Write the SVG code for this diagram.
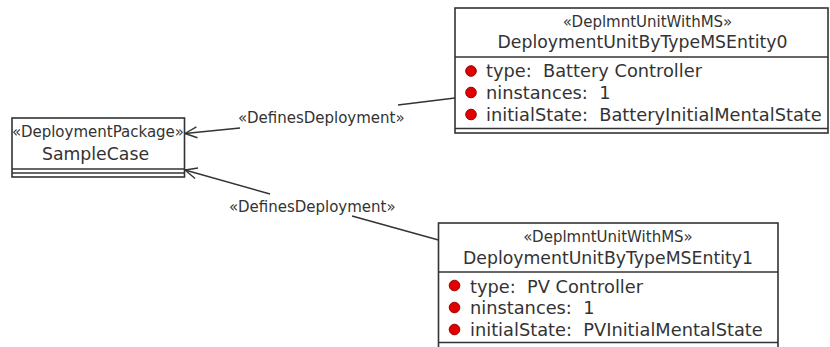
<svg xmlns="http://www.w3.org/2000/svg" width="830" height="347" viewBox="0 0 830 347" xml:space="preserve">
<defs>
<style>
text { font-family: "DejaVu Sans", "Liberation Sans", sans-serif; fill: #333333; white-space: pre; }
.box { fill: #ffffff; stroke: #333333; stroke-width: 1.6; }
.sep { stroke: #333333; stroke-width: 1.4; fill: none; }
.st { font-size: 15px; text-anchor: middle; }
.nm { font-size: 17.3px; text-anchor: middle; }
.at { font-size: 17.8px; }
.bul { fill: #e00000; stroke: #9a0000; stroke-width: 1; }
.edge { stroke: #333333; stroke-width: 1.4; fill: none; }
.lbl { font-size: 15px; }
</style>
<marker id="open" viewBox="-1 -7 14 14" refX="12" refY="0" markerWidth="14" markerHeight="14" markerUnits="userSpaceOnUse" orient="auto">
<path d="M0,-5.5 L12,0 L0,5.5" fill="none" stroke="#333333" stroke-width="1.4"/>
</marker>
</defs>
<g id="SampleCase">
<rect class="box" x="12" y="118" width="172.5" height="59"/>
<line class="sep" x1="12" y1="169" x2="184.5" y2="169"/>
<line class="sep" x1="12" y1="173" x2="184.5" y2="173"/>
<text class="st" x="98" y="137">«DeploymentPackage»</text>
<text class="nm" x="95.5" y="160">SampleCase</text>
</g>
<g id="Entity0">
<rect class="box" x="455" y="8" width="373" height="125"/>
<line class="sep" x1="455" y1="57" x2="828" y2="57"/>
<line class="sep" x1="455" y1="128.5" x2="828" y2="128.5"/>
<text class="st" x="647.5" y="27">«DeplmntUnitWithMS»</text>
<text class="nm" x="642.5" y="48">DeploymentUnitByTypeMSEntity0</text>
<circle class="bul" cx="471" cy="71" r="5.3"/>
<circle class="bul" cx="471" cy="92.5" r="5.3"/>
<circle class="bul" cx="471" cy="114.5" r="5.3"/>
<text class="at" x="486" y="77">type:  Battery Controller</text>
<text class="at" x="486" y="99">ninstances:  1</text>
<text class="at" x="486" y="121">initialState:  BatteryInitialMentalState</text>
</g>
<g id="Entity1">
<rect class="box" x="438.5" y="223" width="339.5" height="128"/>
<line class="sep" x1="438.5" y1="272" x2="778" y2="272"/>
<line class="sep" x1="438.5" y1="342.5" x2="778" y2="342.5"/>
<text class="st" x="608" y="242">«DeplmntUnitWithMS»</text>
<text class="nm" x="608" y="264">DeploymentUnitByTypeMSEntity1</text>
<circle class="bul" cx="454.5" cy="285.5" r="5.3"/>
<circle class="bul" cx="454.5" cy="307.5" r="5.3"/>
<circle class="bul" cx="454.5" cy="329.5" r="5.3"/>
<text class="at" x="470" y="293">type:  PV Controller</text>
<text class="at" x="470" y="314">ninstances:  1</text>
<text class="at" x="470" y="336">initialState:  PVInitialMentalState</text>
</g>
<g id="connectors">
<line class="edge" x1="455" y1="98" x2="398" y2="105"/>
<line class="edge" x1="240" y1="128" x2="185" y2="133.5" marker-end="url(#open)"/>
<text class="lbl" x="238" y="123">«DefinesDeployment»</text>
<line class="edge" x1="438.5" y1="240" x2="352" y2="216"/>
<line class="edge" x1="270" y1="194" x2="185" y2="170" marker-end="url(#open)"/>
<text class="lbl" x="229" y="212">«DefinesDeployment»</text>
</g>
</svg>
